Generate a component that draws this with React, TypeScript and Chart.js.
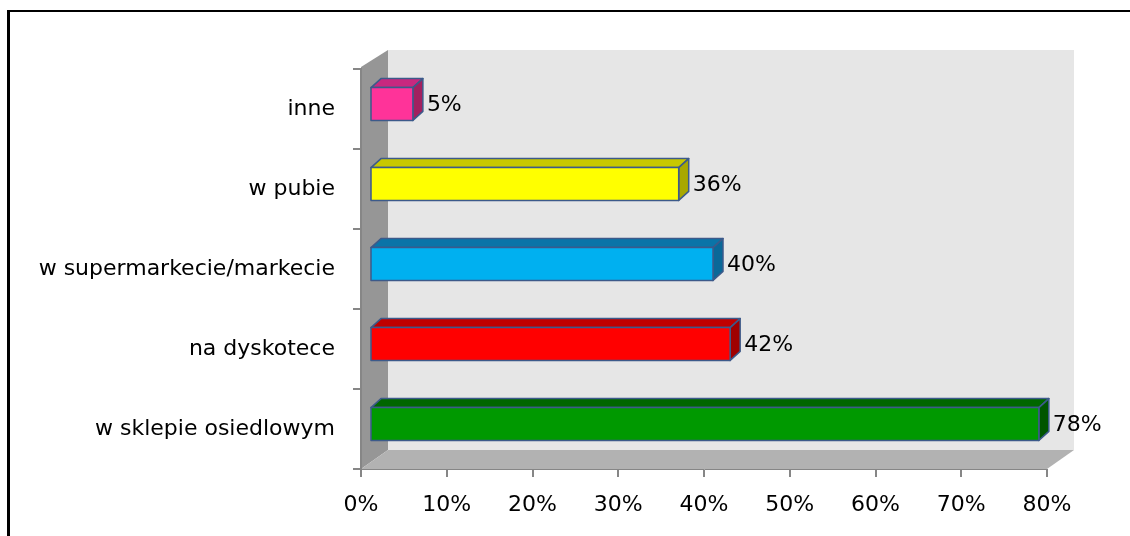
import { useEffect, useRef } from "react";
import { Chart, registerables } from "chart.js";

Chart.register(...registerables);

const categories = [
  "inne",
  "w pubie",
  "w supermarkecie/markecie",
  "na dyskotece",
  "w sklepie osiedlowym",
];
const values = [5, 36, 40, 42, 78];
const valueLabels = ["5%", "36%", "40%", "42%", "78%"];
const xMin = 0;
const xMax = 80;
const xStep = 10;

const frontColors = ["#FF3399", "#FFFF00", "#00B0F0", "#FF0000", "#009900"];
const topColors = ["#C8287F", "#C8C800", "#0A74A8", "#C00000", "#006600"];
const sideColors = ["#A2205F", "#A8A800", "#0A6898", "#A00000", "#005500"];

const FONT = "'DejaVu Sans', sans-serif";

export default function App() {
  const ref = useRef<HTMLCanvasElement | null>(null);

  useEffect(() => {
    document.body.style.margin = "0";
    const canvas = ref.current;
    if (!canvas) return;

    const DEPTH_X = 27;
    const DEPTH_Y = -19;
    const SHIFT_X = 9;
    const SHIFT_Y = -5;
    const BAR_DX = 10;
    const BAR_DY = -9;

    const scene = {
      id: "scene3d",
      beforeDraw(chart: any) {
        const ctx = chart.ctx;
        const a = chart.chartArea;
        ctx.save();
        ctx.fillStyle = "#ffffff";
        ctx.fillRect(0, 0, chart.width, chart.height);
        // back wall
        ctx.fillStyle = "#E6E6E6";
        ctx.fillRect(a.left + DEPTH_X, a.top + DEPTH_Y, a.right - a.left, a.bottom - a.top);
        // left wall
        ctx.fillStyle = "#969696";
        ctx.beginPath();
        ctx.moveTo(a.left, a.top - 2);
        ctx.lineTo(a.left + DEPTH_X, a.top + DEPTH_Y);
        ctx.lineTo(a.left + DEPTH_X, a.bottom + DEPTH_Y);
        ctx.lineTo(a.left, a.bottom);
        ctx.closePath();
        ctx.fill();
        // floor
        ctx.fillStyle = "#B2B2B2";
        ctx.beginPath();
        ctx.moveTo(a.left, a.bottom);
        ctx.lineTo(a.right, a.bottom);
        ctx.lineTo(a.right + DEPTH_X, a.bottom + DEPTH_Y);
        ctx.lineTo(a.left + DEPTH_X, a.bottom + DEPTH_Y);
        ctx.closePath();
        ctx.fill();
        // frame
        ctx.fillStyle = "#000000";
        ctx.fillRect(8, 10, chart.width - 8, 2);
        ctx.fillRect(7, 10, 3, chart.height - 10);
        ctx.restore();
      },
      afterDatasetsDraw(chart: any) {
        const ctx = chart.ctx;
        const meta = chart.getDatasetMeta(0);
        ctx.save();
        meta.data.forEach((bar: any, i: number) => {
          const p = bar.getProps(["x", "y", "base", "height"], true);
          const x0 = p.base + SHIFT_X;
          const x1 = p.x + SHIFT_X;
          const yt = p.y - p.height / 2 + SHIFT_Y;
          const yb = p.y + p.height / 2 + SHIFT_Y;
          ctx.lineWidth = 1.5;
          ctx.strokeStyle = "#3C5A8A";
          ctx.lineJoin = "round";
          // top face
          ctx.fillStyle = topColors[i];
          ctx.beginPath();
          ctx.moveTo(x0, yt);
          ctx.lineTo(x1, yt);
          ctx.lineTo(x1 + BAR_DX, yt + BAR_DY);
          ctx.lineTo(x0 + BAR_DX, yt + BAR_DY);
          ctx.closePath();
          ctx.fill();
          ctx.stroke();
          // side face
          ctx.fillStyle = sideColors[i];
          ctx.beginPath();
          ctx.moveTo(x1, yt);
          ctx.lineTo(x1 + BAR_DX, yt + BAR_DY);
          ctx.lineTo(x1 + BAR_DX, yb + BAR_DY);
          ctx.lineTo(x1, yb);
          ctx.closePath();
          ctx.fill();
          ctx.stroke();
          // front face
          ctx.fillStyle = frontColors[i];
          ctx.beginPath();
          ctx.rect(x0, yt, x1 - x0, yb - yt);
          ctx.fill();
          ctx.stroke();
          // label
          ctx.fillStyle = "#000000";
          ctx.font = `22px ${FONT}`;
          ctx.textAlign = "left";
          ctx.textBaseline = "middle";
          ctx.fillText(valueLabels[i], x1 + BAR_DX + 4, (yt + yb) / 2 + 1);
        });
        ctx.restore();
      },
    };

    const chart = new Chart(canvas, {
      type: "bar",
      data: {
        labels: categories,
        datasets: [
          {
            data: values,
            backgroundColor: "rgba(0,0,0,0)",
            borderWidth: 0,
            barPercentage: 0.41,
            categoryPercentage: 1,
          },
        ],
      },
      options: {
        indexAxis: "y",
        responsive: false,
        animation: false,
        layout: { padding: { left: 0, top: 69, right: 83, bottom: 0 } },
        plugins: {
          legend: { display: false },
          tooltip: { enabled: false },
        },
        scales: {
          x: {
            min: xMin,
            max: xMax,
            ticks: {
              stepSize: xStep,
              callback: (v: any) => `${v}%`,
              color: "#000000",
              font: { family: FONT, size: 22 },
              padding: 15,
              maxRotation: 0,
            },
            grid: { drawOnChartArea: false, tickLength: 8, color: "#868686", lineWidth: 2 },
            border: { color: "#868686", width: 1 },
            afterFit: (s: any) => {
              s.height = 67;
            },
          },
          y: {
            ticks: {
              color: "#000000",
              font: { family: FONT, size: 22 },
              padding: 18,
            },
            grid: { drawOnChartArea: false, tickLength: 8, color: "#868686", lineWidth: 2, offset: true },
            border: { color: "#868686", width: 2 },
            afterFit: (s: any) => {
              s.width = 361;
            },
          },
        },
      },
      plugins: [scene],
    });

    return () => chart.destroy();
  }, []);

  return <canvas ref={ref} width={1130} height={536} style={{ display: "block" }} />;
}
